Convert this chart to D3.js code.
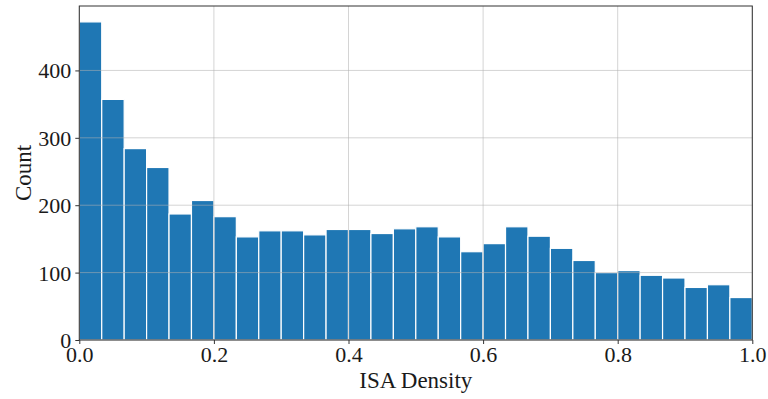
<!DOCTYPE html>
<html><head><meta charset="utf-8">
<script src="https://cdn.jsdelivr.net/npm/d3@7"></script>
<style>body{margin:0;background:#fff}</style>
</head><body>
<svg id="c" width="768" height="399"></svg>
<script>
const counts = [472,357,284,256,187,207,183,153,162,162,156,164,164,158,165,168,153,131,143,168,154,136,118,100,103,96,92,78,82,63];
const binEdges = d3.range(counts.length + 1).map(i => i / counts.length);
const xTicks = [0, 0.2, 0.4, 0.6, 0.8, 1.0];
const yTicks = [0, 100, 200, 300, 400];
const xLabel = "ISA Density";
const yLabel = "Count";

const svg = d3.select("#c");
const m = {l:79.3, r:752.3, t:6, b:340};
const x = d3.scaleLinear().domain([0,1]).range([m.l, m.r]);
const y = d3.scaleLinear().domain([0, d3.max(counts)*1.05]).range([m.b, m.t]);
const font = "'Liberation Serif','Times New Roman',serif";

// bars
svg.append("g").selectAll("rect").data(counts).join("rect")
  .attr("x", (d,i) => x(binEdges[i]))
  .attr("width", (d,i) => x(binEdges[i+1]) - x(binEdges[i]))
  .attr("y", d => y(d))
  .attr("height", d => y(0) - y(d))
  .attr("fill", "#1f77b4")
  .attr("stroke", "#fff")
  .attr("stroke-width", 1.2);

// grid (on top)
const grid = svg.append("g").attr("stroke", "rgb(176,176,176)").attr("stroke-opacity", 0.55).attr("stroke-width", 1);
grid.selectAll("line.gx").data(xTicks).join("line").attr("class","gx")
  .attr("x1", d => x(d)).attr("x2", d => x(d)).attr("y1", m.t).attr("y2", m.b);
grid.selectAll("line.gy").data(yTicks).join("line").attr("class","gy")
  .attr("y1", d => y(d)).attr("y2", d => y(d)).attr("x1", m.l).attr("x2", m.r);

// axes
const xAxis = svg.append("g").attr("transform", `translate(0,${m.b})`)
  .call(d3.axisBottom(x).tickValues(xTicks).tickFormat(d3.format(".1f")).tickSize(4).tickPadding(3));
const yAxis = svg.append("g").attr("transform", `translate(${m.l},0)`)
  .call(d3.axisLeft(y).tickValues(yTicks).tickFormat(d3.format("d")).tickSize(4).tickPadding(4));
[xAxis, yAxis].forEach(a => {
  a.select(".domain").remove();
  a.selectAll(".tick line").attr("stroke", "#333");
  a.selectAll(".tick text").attr("font-family", font).attr("font-size", 22).attr("fill", "#1a1a1a");
});
xAxis.selectAll(".tick text").attr("dy", null).attr("y", 22);
yAxis.selectAll(".tick text").attr("dy", "0.34em");

// spines
svg.append("rect").attr("x", m.l).attr("y", m.t).attr("width", m.r - m.l).attr("height", m.b - m.t)
  .attr("fill", "none").attr("stroke", "#333").attr("stroke-width", 1);

// labels
svg.append("text").attr("x", (m.l+m.r)/2).attr("y", 388).attr("text-anchor", "middle")
  .attr("font-family", font).attr("font-size", 23).attr("fill", "#1a1a1a").text(xLabel);
svg.append("text").attr("transform", `translate(31,${(m.t+m.b)/2}) rotate(-90)`).attr("text-anchor", "middle")
  .attr("font-family", font).attr("font-size", 23).attr("fill", "#1a1a1a").text(yLabel);
</script>
</body></html>
